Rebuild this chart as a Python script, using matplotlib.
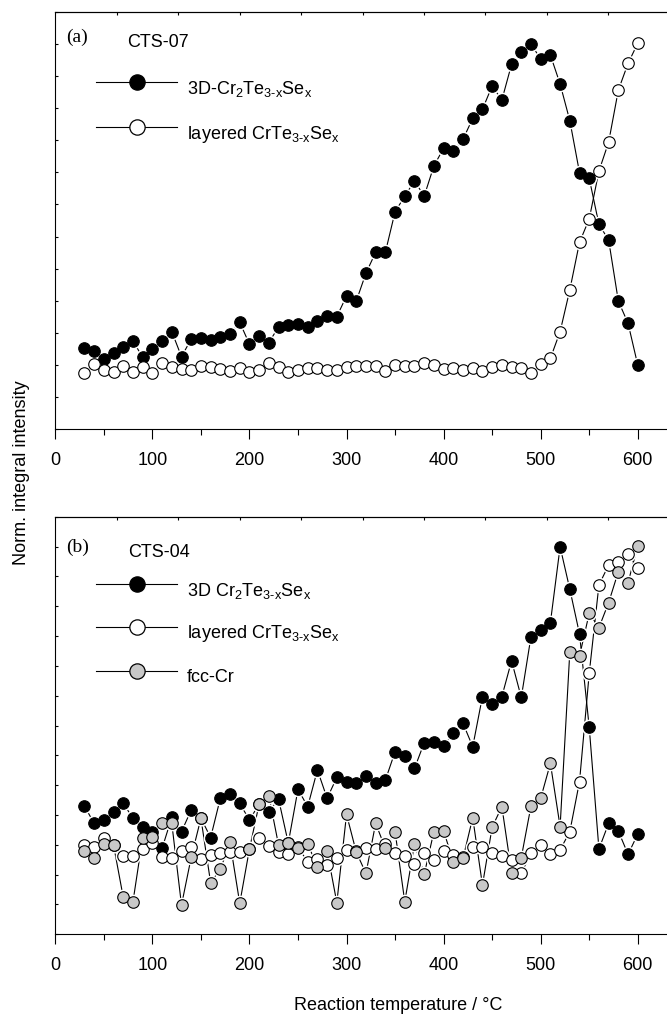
import matplotlib
matplotlib.use('Agg')
import matplotlib.pyplot as plt
from matplotlib.lines import Line2D

plt.rcParams['font.family'] = ['Liberation Sans', 'DejaVu Sans']
plt.rcParams['mathtext.fontset'] = 'custom'
plt.rcParams['mathtext.rm'] = 'Liberation Sans'
plt.rcParams['mathtext.it'] = 'Liberation Sans'
plt.rcParams['mathtext.default'] = 'rm'

# reaction temperature (deg C)
temps = list(range(30, 601, 10))

# (a) CTS-07, normalised integral intensity (arb. units)
a_3d = [2.54, 2.45, 2.18, 2.38, 2.55, 2.75, 2.24, 2.49, 2.75, 3.04,
        2.26, 2.81, 2.85, 2.78, 2.88, 2.97, 3.33, 2.65, 2.90, 2.70,
        3.19, 3.25, 3.28, 3.19, 3.38, 3.53, 3.51, 4.15, 3.99, 4.86,
        5.51, 5.51, 6.77, 7.26, 7.73, 7.26, 8.20, 8.75, 8.67, 9.03,
        9.68, 9.96, 10.69, 10.25, 11.36, 11.76, 12.00, 11.52, 11.65, 10.75,
        9.61, 7.99, 7.81, 6.38, 5.89, 3.99, 3.30, 2.00]
a_layered = [1.74, 2.02, 1.85, 1.77, 1.97, 1.79, 1.93, 1.74, 2.05, 1.95,
             1.88, 1.85, 1.98, 1.95, 1.88, 1.82, 1.90, 1.77, 1.85, 2.07,
             1.93, 1.79, 1.85, 1.92, 1.90, 1.85, 1.85, 1.94, 1.98, 1.98,
             1.97, 1.82, 2.00, 1.97, 1.98, 2.05, 2.00, 1.88, 1.92, 1.85,
             1.92, 1.82, 1.95, 2.00, 1.95, 1.92, 1.74, 2.03, 2.21, 3.04,
             4.34, 5.82, 6.55, 8.04, 8.94, 10.56, 11.39, 12.02]

# (b) CTS-04
b_3d = [4.30, 3.72, 3.83, 4.11, 4.39, 3.89, 3.59, 3.44, 2.88, 3.92,
        3.44, 4.17, 3.90, 3.24, 4.56, 4.70, 4.39, 3.83, 4.37, 4.11,
        4.53, 3.06, 4.86, 4.28, 5.51, 4.56, 5.26, 5.09, 5.08, 5.31,
        5.06, 5.17, 6.12, 5.98, 5.56, 6.42, 6.46, 6.31, 6.74, 7.07,
        6.29, 7.97, 7.72, 7.97, 9.17, 7.94, 9.98, 10.20, 10.45, 12.99,
        11.57, 10.07, 6.94, 2.86, 3.72, 3.46, 2.68, 3.36]
b_layered = [2.99, 2.94, 3.22, 2.99, 2.63, 2.63, 2.86, 3.05, 2.58, 2.55,
             2.79, 2.92, 2.51, 2.66, 2.72, 2.77, 2.77, 2.85, 3.22, 2.96,
             2.77, 2.68, 2.92, 2.43, 2.51, 2.32, 2.55, 2.84, 2.79, 2.88,
             2.85, 3.03, 2.72, 2.62, 2.36, 2.72, 2.49, 2.80, 2.66, 2.58,
             2.92, 2.92, 2.72, 2.62, 2.49, 2.04, 2.72, 2.99, 2.68, 2.83,
             3.44, 5.12, 8.75, 11.71, 12.38, 12.49, 12.75, 12.27]
b_fcc = [2.79, 2.57, 3.03, 2.99, 1.24, 1.09, 3.24, 3.27, 3.72, 3.72,
         0.98, 2.58, 3.89, 1.73, 2.18, 3.08, 1.04, 2.86, 4.37, 4.64,
         2.99, 3.05, 2.88, 3.03, 2.27, 2.79, 1.06, 4.02, 2.76, 2.04,
         3.72, 2.88, 3.44, 1.09, 3.03, 2.01, 3.44, 3.47, 2.43, 2.55,
         3.91, 1.65, 3.59, 4.28, 2.07, 2.57, 4.30, 4.56, 5.73, 3.61,
         9.47, 9.33, 10.76, 10.28, 11.12, 12.16, 11.79, 13.02]

x_ticks = [0, 100, 200, 300, 400, 500, 600]
top_ticks = [63.3 * k for k in range(1, 10)]

label_a = [r'3D-Cr$_2$Te$_{3\text{-}x}$Se$_x$', r'layered CrTe$_{3\text{-}x}$Se$_x$']
label_b = [r'3D Cr$_2$Te$_{3\text{-}x}$Se$_x$', r'layered CrTe$_{3\text{-}x}$Se$_x$', 'fcc-Cr']
GREY = '#c8c8c8'
MS = 8.3

W, H = 667, 1014
fig = plt.figure(figsize=(W / 100, H / 100), dpi=100)


def fx(x):
    return x / W


def fy(y):
    return 1 - y / H


def make_axes(top_px, bottom_px, ymax):
    ax = fig.add_axes([fx(55.3), fy(bottom_px), (676.6 - 55.3) / W, (bottom_px - top_px) / H])
    ax.set_xlim(0, 640)
    ax.set_ylim(0, ymax)
    ax.set_xticks(x_ticks)
    ax.set_xticks(range(50, 601, 100), minor=True)
    ax.set_yticks(range(0, ymax + 1))
    ax.set_yticklabels([])
    ax.tick_params(axis='x', which='major', direction='out', length=7.5, width=0.8,
                   pad=9, labelsize=13)
    ax.tick_params(axis='x', which='minor', direction='out', length=4.5, width=0.8)
    ax.tick_params(axis='y', direction='in', length=2, width=0.8)
    ax.spines['right'].set_visible(False)
    for s in ('left', 'bottom', 'top'):
        ax.spines[s].set_linewidth(0.8)
    top = ax.secondary_xaxis('top')
    top.set_xticks(top_ticks)
    top.set_xticklabels([])
    top.tick_params(direction='in', length=2, width=0.8)
    top.spines['top'].set_linewidth(0.8)
    return ax


def draw(ax, series):
    # connecting lines, then white halos so lines stop short of the symbols
    for y, fc in series:
        ax.plot(temps, y, color='black', lw=0.8, zorder=2)
    for y, fc in series:
        ax.plot(temps, y, ls='none', marker='o', ms=MS + 3, mfc='white', mec='none', zorder=3)
    for i, (y, fc) in enumerate(series):
        ax.plot(temps, y, ls='none', marker='o', ms=MS, mfc=fc, mec='black',
                mew=0.8, zorder=4 + i)


def legend(rows, labels, faces, base_off):
    for yr, lab, fc in zip(rows, labels, faces):
        fig.add_artist(Line2D([fx(95.7), fx(177.3)], [fy(yr), fy(yr)], color='black', lw=0.8))
        fig.add_artist(Line2D([fx(136.7)], [fy(yr)], marker='o', ms=11, mfc=fc,
                              mec='black', mew=0.9))
        fig.text(fx(186.7), fy(yr + base_off), lab, fontsize=13, va='baseline')


# panel (a)
ax_a = make_axes(11.7, 429.3, 13)
draw(ax_a, [(a_3d, 'black'), (a_layered, 'white')])
fig.text(fx(66), fy(41.5), '(a)', family='Liberation Serif', fontsize=14, va='baseline')
fig.text(fx(126.7), fy(47.3), 'CTS-07', fontsize=13, va='baseline')
legend([81.7, 126.7], label_a, ['black', 'white'], 12.3)

# panel (b)
ax_b = make_axes(516.7, 934.3, 14)
draw(ax_b, [(b_3d, 'black'), (b_layered, 'white'), (b_fcc, GREY)])
fig.text(fx(66), fy(551.7), '(b)', family='Liberation Serif', fontsize=14, va='baseline')
fig.text(fx(128.3), fy(556.7), 'CTS-04', fontsize=13, va='baseline')
legend([584, 626.7, 670.7], label_b, ['black', 'white', GREY], 11.8)

fig.text(fx(22), fy(473), 'Norm. integral intensity', rotation=90, ha='center',
         va='center', fontsize=13)
fig.text(fx(398), fy(1006), 'Reaction temperature / \u00b0C', ha='center', va='center',
         fontsize=13)

fig.savefig('out.png', dpi=100)
